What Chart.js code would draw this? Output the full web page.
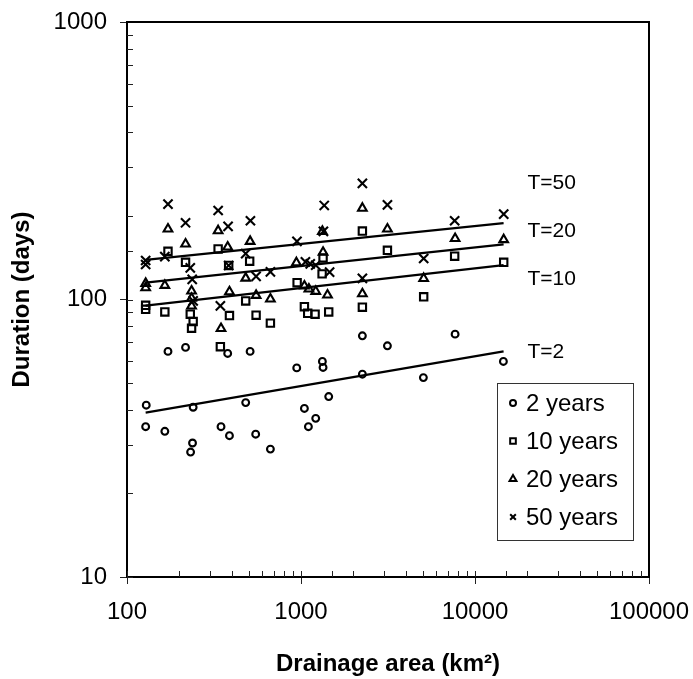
<!DOCTYPE html>
<html>
<head>
<meta charset="utf-8">
<script src="https://cdn.jsdelivr.net/npm/chart.js@4.4.1/dist/chart.umd.min.js"></script>
<style>
body { margin: 0; background: #fff; }
#wrap { width: 693px; height: 679px; }
</style>
</head>
<body>
<div id="wrap"><canvas id="myChart"></canvas></div>
<script>
// drainage area (km2) and duration (days)
var area2 = [129, 128, 165, 172, 217, 240, 238, 232, 347, 379, 388, 510, 481, 549, 667, 945, 1046, 1103, 1215, 1327, 1339, 1443, 2253, 2253, 3138, 5050, 7685, 14560]
var days2 = [41.6, 34.8, 33.5, 65.0, 67.2, 40.9, 30.4, 28.2, 34.8, 63.9, 32.3, 65.0, 42.5, 32.7, 28.9, 56.7, 40.5, 34.8, 37.3, 59.8, 56.9, 44.7, 74.0, 53.8, 68.1, 52.3, 75.0, 59.8]

var area10 = [128, 128, 165, 172, 217, 231, 240, 235, 334, 344, 384, 388, 481, 507, 552, 667, 950, 1046, 1093, 1205, 1322, 1339, 1443, 2253, 2253, 3138, 5070, 7640, 14620]
var days10 = [95.3, 92.2, 90.2, 149.2, 136.2, 88.5, 83.3, 78.8, 152.1, 67.6, 132.6, 87.5, 98.8, 137.4, 87.8, 82.2, 115, 94.2, 89.2, 88.5, 123.7, 141.2, 90.2, 176.4, 93.8, 150.4, 102.3, 143.2, 136.2]

var area20 = [128, 128, 165, 172, 217, 235, 235, 235, 334, 347, 379, 388, 510, 481, 552, 667, 941, 1046, 1110, 1215, 1327, 1339, 1420, 2253, 2253, 3138, 5070, 7685, 14620]
var days20 = [114.3, 110.2, 112.4, 179.4, 158.5, 107.3, 101, 94.8, 177, 78.6, 154.6, 106.6, 162, 119.4, 103.5, 100.4, 135.7, 111.8, 109.1, 107, 176, 148, 103.8, 213.3, 104.9, 179.4, 119.1, 165.8, 164.3]

var area50 = [128, 128, 165, 172, 217, 231, 237, 240, 334, 344, 381, 384, 512, 481, 552, 667, 948, 1060, 1130, 1215, 1360, 1345, 1460, 2253, 2253, 3138, 5070, 7640, 14620]
var days50 = [138.2, 133.7, 142.8, 220.5, 189, 130, 118.1, 98.8, 209.3, 94.8, 183.4, 132.6, 192.2, 146.4, 121.1, 125.8, 162, 136.6, 134.4, 132.9, 218.2, 176, 125.5, 262.2, 119.1, 219.4, 140.5, 192.2, 203]

// fitted lines (end points)
var fitArea = [128, 14600]
var fitT2 = [39.1, 65]
var fitT10 = [95, 133]
var fitT20 = [115, 158]
var fitT50 = [139, 188.5]

var tLabels = ['T=50', 'T=20', 'T=10', 'T=2']
var tLabelDays = [263, 176.5, 118.5, 64.8]
var tLabelArea = 20000

var legendNames = ['2 years', '10 years', '20 years', '50 years']
var legendStyles = ['circle', 'rect', 'triangle', 'crossRot']


function toPoints(xs, ys) {
    return xs.map(function (x, i) { return { x: x, y: ys[i] } })
}

function isPow10(v) {
    var l = Math.log10(v)
    return Math.abs(l - Math.round(l)) < 1e-9
}

function scatterSet(label, xs, ys, style, r) {
    return {
        type: 'scatter',
        label: label,
        data: toPoints(xs, ys),
        pointStyle: style,
        pointRadius: r,
        pointBorderWidth: 2.1,
        borderColor: '#000',
        backgroundColor: 'rgba(0,0,0,0)',
        order: 2
    }
}

function fitSet(ys) {
    return {
        type: 'line',
        data: toPoints(fitArea, ys),
        borderColor: '#000',
        borderWidth: 2.2,
        pointRadius: 0,
        fill: false,
        order: 1
    }
}

var framePlugin = {
    id: 'frame',
    afterDraw: function (chart) {
        var ctx = chart.ctx
        var a = chart.chartArea
        var xs = chart.scales.x
        var ys = chart.scales.y
        ctx.save()

        // small ticks pointing inside
        ctx.strokeStyle = '#222'
        ctx.lineWidth = 1
        xs.ticks.forEach(function (t) {
            var px = Math.round(xs.getPixelForValue(t.value)) + 0.5
            ctx.beginPath()
            ctx.moveTo(px, a.bottom)
            ctx.lineTo(px, a.bottom - 6)
            ctx.stroke()
        })
        ys.ticks.forEach(function (t) {
            var py = Math.round(ys.getPixelForValue(t.value)) + 0.5
            ctx.beginPath()
            ctx.moveTo(a.left, py)
            ctx.lineTo(a.left + 6, py)
            ctx.stroke()
        })

        // top and right edge of the frame
        ctx.strokeStyle = '#000'
        ctx.lineWidth = 2
        ctx.beginPath()
        ctx.moveTo(a.left, a.top)
        ctx.lineTo(a.right, a.top)
        ctx.lineTo(a.right, a.bottom)
        ctx.stroke()

        // return period labels
        ctx.fillStyle = '#000'
        ctx.font = '21px "Liberation Sans", Arial, sans-serif'
        ctx.textAlign = 'left'
        ctx.textBaseline = 'middle'
        tLabels.forEach(function (s, i) {
            ctx.fillText(s, xs.getPixelForValue(tLabelArea), ys.getPixelForValue(tLabelDays[i]))
        })

        // legend box
        var lx = 497, ly = 383, lw = 136, lh = 157
        ctx.fillStyle = '#fff'
        ctx.fillRect(lx, ly, lw, lh)
        ctx.strokeStyle = '#333'
        ctx.lineWidth = 1
        ctx.strokeRect(lx + 0.5, ly + 0.5, lw, lh)
        ctx.font = '24px "Liberation Sans", Arial, sans-serif'
        legendNames.forEach(function (name, i) {
            var y = ly + 20 + i * 38
            ctx.strokeStyle = '#000'
            ctx.fillStyle = 'rgba(0,0,0,0)'
            ctx.lineWidth = 2
            if (Chart.helpers && Chart.helpers.drawPoint) {
                Chart.helpers.drawPoint(ctx, { pointStyle: legendStyles[i], radius: i == 0 ? 3 : 4, borderWidth: 2, rotation: 0 }, 513, y)
            }
            ctx.fillStyle = '#000'
            ctx.fillText(name, 526, y + 1)
        })
        ctx.restore()
    }
}

Chart.defaults.font.family = '"Liberation Sans", Arial, sans-serif'
Chart.defaults.color = '#000'

var ctx = document.getElementById('myChart')

var myChart = new Chart(ctx, {
    type: 'scatter',
    data: {
        datasets: [
            scatterSet('2 years', area2, days2, 'circle', 3.4),
            scatterSet('10 years', area10, days10, 'rect', 5.2),
            scatterSet('20 years', area20, days20, 'triangle', 5),
            scatterSet('50 years', area50, days50, 'crossRot', 6.5),
            fitSet(fitT2),
            fitSet(fitT10),
            fitSet(fitT20),
            fitSet(fitT50)
        ]
    },
    options: {
        responsive: true,
        maintainAspectRatio: false,
        devicePixelRatio: 1,
        animation: false,
        layout: { padding: { top: 22, right: 44, left: 0, bottom: 0 } },
        plugins: {
            legend: { display: false },
            tooltip: { enabled: false }
        },
        scales: {
            x: {
                type: 'logarithmic',
                min: 100,
                max: 100000,
                afterFit: function (s) {
                    s.height = 102
                    s.paddingLeft = 0
                    s.paddingRight = 0
                },
                border: { display: true, color: '#000', width: 2 },
                grid: {
                    drawOnChartArea: false,
                    drawTicks: true,
                    tickLength: 7,
                    tickColor: function (c) { return c.tick && isPow10(c.tick.value) ? '#222' : 'rgba(0,0,0,0)' }
                },
                ticks: {
                    autoSkip: false,
                    maxRotation: 0,
                    padding: 14,
                    font: { size: 24 },
                    callback: function (v) { return isPow10(v) ? String(Math.round(v)) : '' }
                },
                title: {
                    display: true,
                    text: 'Drainage area (km²)',
                    font: { size: 24, weight: 'bold' },
                    padding: { top: 0, bottom: 0 }
                }
            },
            y: {
                type: 'logarithmic',
                min: 10,
                max: 1000,
                afterFit: function (s) {
                    s.width = 127
                    s.paddingTop = 0
                    s.paddingBottom = 0
                },
                border: { display: true, color: '#000', width: 2 },
                grid: {
                    drawOnChartArea: false,
                    drawTicks: true,
                    tickLength: 7,
                    tickColor: function (c) { return c.tick && isPow10(c.tick.value) ? '#222' : 'rgba(0,0,0,0)' }
                },
                ticks: {
                    autoSkip: false,
                    padding: 13,
                    font: { size: 24 },
                    callback: function (v) { return isPow10(v) ? String(Math.round(v)) : '' }
                },
                title: {
                    display: true,
                    text: 'Duration (days)',
                    font: { size: 24, weight: 'bold' },
                    padding: { top: 8, bottom: 0 }
                }
            }
        }
    },
    plugins: [framePlugin]
})
</script>
</body>
</html>
